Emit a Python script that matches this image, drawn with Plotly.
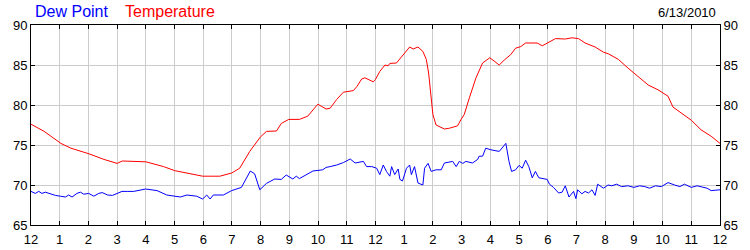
import plotly.graph_objects as go

# hours since midnight
temp_hours = [0.0, 0.46, 1.04, 1.39, 2.02, 2.54, 3.0, 3.18, 4.0, 4.62, 5.0, 5.43, 5.98, 6.58, 6.99,
              7.27, 7.62, 7.99, 8.2, 8.55, 8.72, 8.98, 9.35, 9.64, 9.99, 10.28, 10.42, 10.65, 10.88,
              11.23, 11.35, 11.52, 11.63, 11.92, 12.0, 12.15, 12.33, 12.44, 12.5, 12.73, 12.96, 13.19,
              13.31, 13.48, 13.65, 13.77, 13.85, 13.92, 14.0, 14.11, 14.4, 14.58, 14.86, 14.98, 15.09,
              15.27, 15.5, 15.73, 15.98, 16.13, 16.31, 16.48, 16.71, 16.88, 17.06, 17.23, 17.63, 17.81,
              18.04, 18.27, 18.61, 18.84, 19.07, 19.3, 19.65, 19.94, 20.11, 20.46, 20.8, 21.15, 21.5,
              21.84, 22.19, 22.36, 22.65, 23.0, 23.34, 23.69, 24.0]
temperature = [77.6, 76.7, 75.2, 74.6, 73.9, 73.2, 72.7, 73.0, 72.9, 72.3, 71.8, 71.5, 71.1, 71.1, 71.5,
               72.1, 74.2, 76.0, 76.7, 76.75, 77.7, 78.2, 78.2, 78.6, 80.1, 79.5, 79.6, 80.7, 81.6,
               81.8, 82.3, 83.25, 83.4, 82.9, 83.2, 84.2, 85.0, 84.9, 85.2, 85.25, 86.2, 87.25,
               87.0, 87.25, 86.7, 85.7, 84.0, 81.1, 78.8, 77.5, 77.0, 77.1, 77.4, 78.2, 78.8,
               80.9, 83.4, 85.25, 85.9, 85.5, 85.0, 85.6, 86.3, 87.1, 87.3, 87.75, 87.75, 87.4,
               87.9, 88.3, 88.25, 88.4, 88.3, 87.75, 87.25, 86.6, 86.4, 85.7, 84.6, 83.6, 82.5,
               81.9, 81.1, 79.75, 79.0, 78.1, 76.9, 76.1, 75.2]

dew_hours = [0.0, 0.15, 0.27, 0.38, 0.5, 0.67, 0.85, 1.02, 1.2, 1.31, 1.43, 1.6, 1.72, 1.84, 2.01,
             2.19, 2.36, 2.48, 2.67, 2.84, 3.0, 3.17, 3.35, 3.58, 3.99,
             4.39, 4.73, 5.2, 5.43, 5.77, 5.98, 6.12, 6.24, 6.35, 6.7, 6.99, 7.33,
             7.51, 7.64, 7.79, 7.97, 8.2, 8.49, 8.72, 8.89, 9.12, 9.24, 9.35, 9.82, 10.16, 10.28,
             10.42, 10.65, 10.88, 11.12, 11.29, 11.58, 11.69, 11.87, 12.04, 12.15, 12.27, 12.38,
             12.5, 12.56, 12.67, 12.79, 12.85, 12.94, 13.08, 13.19, 13.25, 13.36, 13.48, 13.65,
             13.71, 13.83, 13.94, 14.11, 14.29, 14.4, 14.69, 14.81, 14.92, 15.04, 15.15, 15.38,
             15.56, 15.61, 15.73, 15.84, 16.02, 16.31, 16.54, 16.65, 16.74, 16.88, 17.0, 17.11,
             17.23, 17.34, 17.46, 17.57, 17.69, 17.98, 18.06, 18.2, 18.38, 18.5, 18.61, 18.74,
             18.9, 18.98, 19.04, 19.19, 19.3, 19.42, 19.54, 19.65, 19.74, 19.94, 20.1, 20.23,
             20.4, 20.57, 20.8, 21.0, 21.2, 21.38, 21.55, 21.75, 21.96, 22.19, 22.42, 22.6, 22.76,
             23.0, 23.2, 23.34, 23.55, 23.69, 24.0]
dew_point = [69.2, 68.95, 69.2, 68.95, 69.1, 68.9, 68.7, 68.6, 68.5, 68.75, 68.5, 68.95, 69.1, 68.85, 68.95,
             68.6, 68.95, 69.05, 68.75, 68.7, 68.9, 69.2, 69.2, 69.2, 69.5,
             69.3, 68.75, 68.5, 68.75, 68.6, 68.25, 68.75, 68.25, 68.75, 68.75, 69.3, 69.7,
             70.8, 71.75, 71.4, 69.4, 70.2, 70.75, 70.7, 71.25, 70.75, 71.1, 70.8, 71.75, 71.9, 72.2,
             72.3, 72.5, 72.8, 73.25, 72.75, 72.95, 72.3, 72.3, 72.1, 71.3, 72.5, 71.7,
             71.1, 72.3, 71.3, 72.0, 70.7, 70.5, 72.1, 72.5, 71.3, 72.3, 70.25, 70.0,
             72.1, 72.7, 71.7, 71.9, 71.9, 72.75, 72.95, 72.3, 72.95, 72.7, 72.95, 72.75,
             73.2, 73.6, 73.6, 74.6, 74.4, 74.2, 75.2, 72.95, 71.7, 71.9, 72.45, 72.1,
             73.1, 72.3, 70.9, 71.7, 70.9, 70.7, 70.1, 69.7, 69.0, 69.1, 69.9, 68.5,
             69.2, 68.3, 69.4, 68.9, 69.2, 69.0, 69.4, 68.7, 70.1, 69.6, 70.0, 69.9,
             70.1, 69.8, 69.9, 69.7, 69.9, 69.8, 69.6, 69.9, 69.8, 70.3, 70.0, 69.8, 70.1,
             69.7, 69.9, 69.8, 69.6, 69.3, 69.4]

tick_vals = list(range(25))
tick_text = ["12", "1", "2", "3", "4", "5", "6", "7", "8", "9", "10", "11",
             "12", "1", "2", "3", "4", "5", "6", "7", "8", "9", "10", "11", "12"]
y_ticks = [65, 70, 75, 80, 85, 90]
date_label = "6/13/2010"

FONT = "Liberation Sans, Arial, sans-serif"

fig = go.Figure()
fig.add_trace(go.Scatter(x=dew_hours, y=dew_point, mode="lines", name="Dew Point",
                         line=dict(color="#0000ff", width=1), hoverinfo="skip"))
fig.add_trace(go.Scatter(x=temp_hours, y=temperature, mode="lines", name="Temperature",
                         line=dict(color="#ff0000", width=1), yaxis="y2", hoverinfo="skip"))

fig.update_layout(
    width=750, height=250,
    margin=dict(l=31, r=30, t=25, b=25, autoexpand=False),
    paper_bgcolor="white", plot_bgcolor="white",
    showlegend=False,
    font=dict(family=FONT, size=13, color="#000000"),
    xaxis=dict(range=[0, 24], tickvals=tick_vals, ticktext=tick_text,
               showgrid=True, gridcolor="#cccccc", gridwidth=1,
               showline=True, linecolor="#000000", linewidth=1, mirror="ticks",
               ticks="inside", ticklen=4, tickcolor="#000000", ticklabelstandoff=2,
               automargin=False,
               tickfont=dict(family=FONT, size=13), zeroline=False),
    yaxis=dict(range=[65, 90], tickvals=y_ticks, automargin=False,
               showgrid=True, gridcolor="#cccccc", gridwidth=1,
               showline=True, linecolor="#000000", linewidth=1, mirror=True,
               ticks="inside", ticklen=4, tickcolor="#000000",
               tickfont=dict(family=FONT, size=13), zeroline=False),
    yaxis2=dict(range=[65, 90], tickvals=y_ticks, overlaying="y", side="right",
                automargin=False,
                showgrid=False, showline=True, linecolor="#000000", linewidth=1,
                ticks="inside", ticklen=4, tickcolor="#000000",
                tickfont=dict(family=FONT, size=13), zeroline=False),
    annotations=[
        dict(text="Dew Point", xref="paper", yref="paper", x=2 / 689, y=1 + 13.5 / 200,
             xanchor="left", yanchor="middle", showarrow=False,
             font=dict(family=FONT, size=16, color="#0000ff")),
        dict(text="Temperature", xref="paper", yref="paper", x=92 / 689, y=1 + 13.5 / 200,
             xanchor="left", yanchor="middle", showarrow=False,
             font=dict(family=FONT, size=16, color="#ff0000")),
        dict(text=date_label, xref="paper", yref="paper", x=1 - 2 / 689, y=1 + 13 / 200,
             xanchor="right", yanchor="middle", showarrow=False,
             font=dict(family=FONT, size=13, color="#000000")),
    ],
)

fig.write_html("out.html")
